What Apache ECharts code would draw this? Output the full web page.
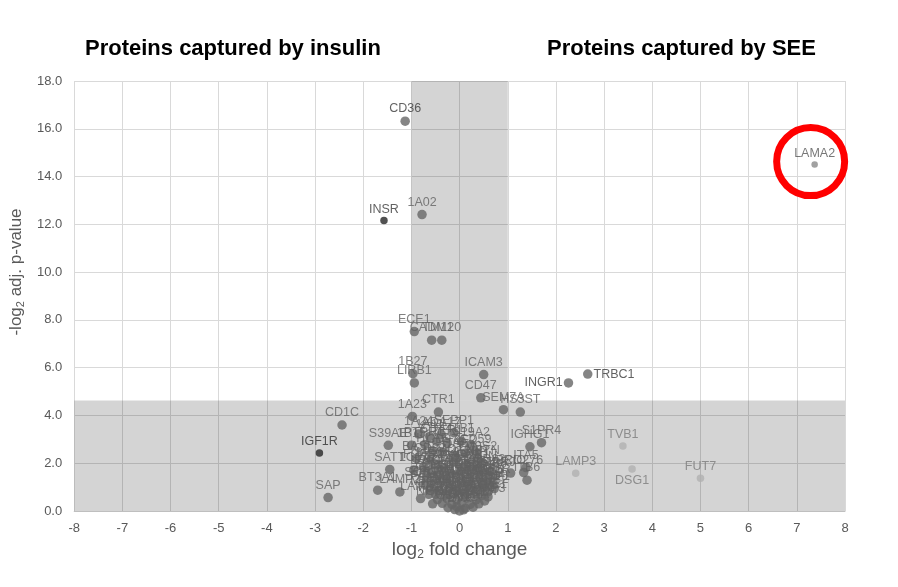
<!DOCTYPE html>
<html>
<head>
<meta charset="utf-8">
<script src="https://cdn.jsdelivr.net/npm/echarts@6/dist/echarts.min.js"></script>
<style>
html,body{margin:0;padding:0;background:#fff;}
#chart{width:898px;height:587px;}
</style>
</head>
<body>
<div id="chart"></div>
<script>
// ---- DATA ----
const proteinNames = [
  'CD36','1A02','INSR','ECE1','CADM1','TM120','1B27','LIRB1','ICAM3','CD47','SEM7A','HS3ST',
  'INGR1','TRBC1','CTR1','1A23','CD1C','IGF1R','SAP','S39AE','1B15','SATT','BT3A1','LAMP2','LAMB1',
  'S1PR4','IGHG1','ITA5','PRIO','CD276','ITB6','LAMA2','LAMP3','TVB1','DSG1','FUT7',
  '1A24','1A11','ADA17','SEPP1','PTPRC','CD44','TFR1','ITB1','S19A2','CD59','HLAE','4F2','ITAL','TM9S2',
  'CD97','NPTN','BASI','CD82','MEGF8','FGFR1','1C07','LG3BP','AMPN','CD63','PTPRJ','TM135','TSP1','LYVE1',
  'ENOA','AT1A1','CD151','ITA3','ITA6','SDC4','CD9','CD81','EGFR','MET','ERBB2','PTPRF','CADH2',
  'EPCAM','ICAM1','VCAM1','NCAM1','L1CAM','CD55','MCP','PLXB2','SEM4D','NRP1','NRP2','GPC1','SDC1','CSPG4',
  'TSN4','TSN6','ANXA2','EHD2','CAV1','FLOT1','FLOT2','STOM','RAB5A','RAP1B','GNAI2',
  'GNB1','RHOA','CDC42','RAC1','KPYM','G3P','ACTB','MYH9','FLNA','TLN1','VINC','ZYX',
  'LRP1','LDLR','SORT1','IGF2R','MPRD','SCRB2','NPC1','VAMP3','STX4','SNP23','GTR1','MOT1'
];
const log2FoldChange = [
  -1.13,-0.78,-1.57,-0.94,-0.58,-0.37,-0.97,-0.94,0.50,0.44,0.91,1.26,
  2.26,2.66,-0.44,-0.98,-2.44,-2.91,-2.73,-1.48,-1.00,-1.45,-1.70,-1.24,-0.81,
  1.70,1.46,1.38,1.06,1.33,1.40,7.37,2.41,3.39,3.58,5.00,
  -0.85,-0.62,-0.38,-0.12,-0.72,-0.48,-0.26,0.04,0.24,0.33,-0.56,0.12,-0.10,0.36,
  -0.36,0.48,-0.90,-0.62,-0.45,-0.75,-0.95,0.16,0.40,0.62,0.75,0.51,0.72,0.59,
  -0.58,-0.38,-0.18,0.02,0.22,0.42,-0.66,-0.46,-0.26,-0.06,0.14,0.34,0.55,
  -0.56,-0.36,-0.16,0.04,0.24,0.44,0.62,-0.62,-0.42,-0.22,-0.02,0.18,0.38,0.50,
  -0.50,-0.30,-0.10,0.10,0.30,0.46,-0.46,-0.26,-0.06,0.14,0.34,
  -0.36,-0.16,0.04,0.22,0.40,-0.24,-0.06,0.12,0.28,-0.10,0.08,0.00,
  -0.70,0.60,-0.72,0.68,-0.64,0.58,-0.56,0.52,-0.30,0.05,0.28,-0.12
];
const negLog2AdjP = [
  16.32,12.41,12.16,7.51,7.15,7.15,5.75,5.36,5.71,4.74,4.24,4.14,
  5.36,5.73,4.14,3.96,3.60,2.43,0.56,2.75,2.75,1.74,0.87,0.80,0.52,
  2.86,2.69,1.82,1.59,1.61,1.29,14.50,1.58,2.72,1.76,1.37,
  3.22,3.12,3.20,3.28,2.78,2.92,2.84,2.92,2.78,2.48,2.52,2.42,2.30,2.18,
  2.46,2.02,2.20,2.10,1.95,1.85,1.72,1.98,1.78,1.66,1.50,1.16,0.94,0.59,
  1.62,1.70,1.58,1.66,1.60,1.52,1.36,1.44,1.38,1.42,1.34,1.40,1.30,
  1.14,1.20,1.10,1.18,1.12,1.18,1.08,0.92,0.86,0.94,0.88,0.96,0.86,0.98,
  0.70,0.66,0.74,0.68,0.72,0.64,0.48,0.52,0.46,0.54,0.46,
  0.32,0.28,0.34,0.28,0.30,0.14,0.18,0.12,0.16,0.06,0.05,0.00,
  1.60,1.45,1.10,1.22,0.70,0.80,0.30,0.42,1.80,1.82,1.86,2.05
];
const xTicks = { min: -8, max: 8, step: 1 };
const yTicks = { min: 0, max: 18, step: 2 };
const significanceCut = { foldLow: -1, foldHigh: 1, pValue: 4.63 };
const highlightedProtein = 'LAMA2';

// ---- STYLE GROUPS ----
const darkProteins = ['INSR', 'IGF1R'];
const lightProteins = ['LAMP3', 'TVB1', 'DSG1', 'FUT7'];
const darkLabels = ['CD36', 'INSR', 'INGR1', 'TRBC1'];
const labelSide = { INGR1: 'left', TRBC1: 'right', DSG1: 'bottom' };

const FONT = '"Liberation Sans", Arial, sans-serif';

function item(i) {
  const n = proteinNames[i];
  let color = '#676767', size = 9.5, lab = '#626262';
  if (darkProteins.includes(n)) { color = '#262626'; size = 7.5; lab = '#2e2e2e'; }
  if (lightProteins.includes(n)) { color = '#b0b0b0'; size = 7.5; lab = '#7a7a7a'; }
  if (n === highlightedProtein) { color = '#8a8a8a'; size = 6.5; lab = '#555555'; }
  if (darkLabels.includes(n)) lab = '#3a3a3a';
  return {
    name: n,
    value: [log2FoldChange[i], negLog2AdjP[i]],
    symbolSize: size,
    itemStyle: { color: color },
    label: { position: labelSide[n] || 'top', color: lab }
  };
}
const points = proteinNames.map((_, i) => item(i));
const hi = proteinNames.indexOf(highlightedProtein);

const chart = echarts.init(document.getElementById('chart'));
chart.setOption({
  backgroundColor: '#ffffff',
  animation: false,
  title: [
    { text: 'Proteins captured by insulin', left: 80, top: 33,
      textStyle: { fontFamily: FONT, fontSize: 22, fontWeight: 'bold', color: '#000' } },
    { text: 'Proteins captured by SEE', left: 542, top: 33,
      textStyle: { fontFamily: FONT, fontSize: 22, fontWeight: 'bold', color: '#000' } }
  ],
  grid: { left: 71, right: 53, top: 81, bottom: 76, containLabel: false },
  xAxis: {
    type: 'value', min: xTicks.min, max: xTicks.max, interval: xTicks.step,
    name: '{a|log}{s|2}{a| fold change}', nameLocation: 'middle', nameGap: 27,
    nameTextStyle: { rich: {
      a: { fontFamily: FONT, fontSize: 19, color: '#595959' },
      s: { fontFamily: FONT, fontSize: 12, color: '#595959', verticalAlign: 'bottom', padding: [10, 0, 0, 0] }
    } },
    axisLine: { show: true, onZero: false, lineStyle: { color: '#bfbfbf', width: 1 } },
    axisTick: { show: false },
    axisLabel: { color: '#595959', fontFamily: FONT, fontSize: 13, margin: 11 },
    splitLine: { show: true, lineStyle: { color: '#d9d9d9', width: 1 } }
  },
  yAxis: {
    type: 'value', min: yTicks.min, max: yTicks.max, interval: yTicks.step,
    name: '{a|-log}{s|2}{a| adj. p-value}', nameLocation: 'middle', nameGap: 45, nameRotate: 90,
    nameTextStyle: { padding: [0, 0, 0, 48], rich: {
      a: { fontFamily: FONT, fontSize: 17, color: '#595959' },
      s: { fontFamily: FONT, fontSize: 11, color: '#595959', verticalAlign: 'bottom', padding: [8, 0, 0, 0] }
    } },
    axisLine: { show: false },
    axisTick: { show: false },
    axisLabel: { color: '#595959', fontFamily: FONT, fontSize: 13, margin: 12,
      formatter: v => v.toFixed(1) },
    splitLine: { show: true, lineStyle: { color: '#d9d9d9', width: 1 } }
  },
  series: [{
    type: 'scatter',
    data: points,
    label: { show: true, formatter: '{b}', fontFamily: FONT, fontSize: 12.5, distance: 1 },
    labelLayout: { hideOverlap: false },
    markArea: {
      silent: true,
      itemStyle: { color: 'rgba(0,0,0,0.17)' },
      data: [
        [{ xAxis: xTicks.min, yAxis: 0 }, { xAxis: xTicks.max, yAxis: significanceCut.pValue }],
        [{ xAxis: significanceCut.foldLow, yAxis: significanceCut.pValue },
         { xAxis: significanceCut.foldHigh, yAxis: yTicks.max }]
      ]
    },
    markPoint: {
      silent: true,
      symbol: 'circle',
      symbolSize: 68,
      symbolOffset: [-4, -3],
      itemStyle: { color: 'rgba(0,0,0,0)', borderColor: '#ff0000', borderWidth: 7 },
      label: { show: false },
      data: [{ coord: [log2FoldChange[hi], negLog2AdjP[hi]] }]
    }
  }]
});
</script>
</body>
</html>
